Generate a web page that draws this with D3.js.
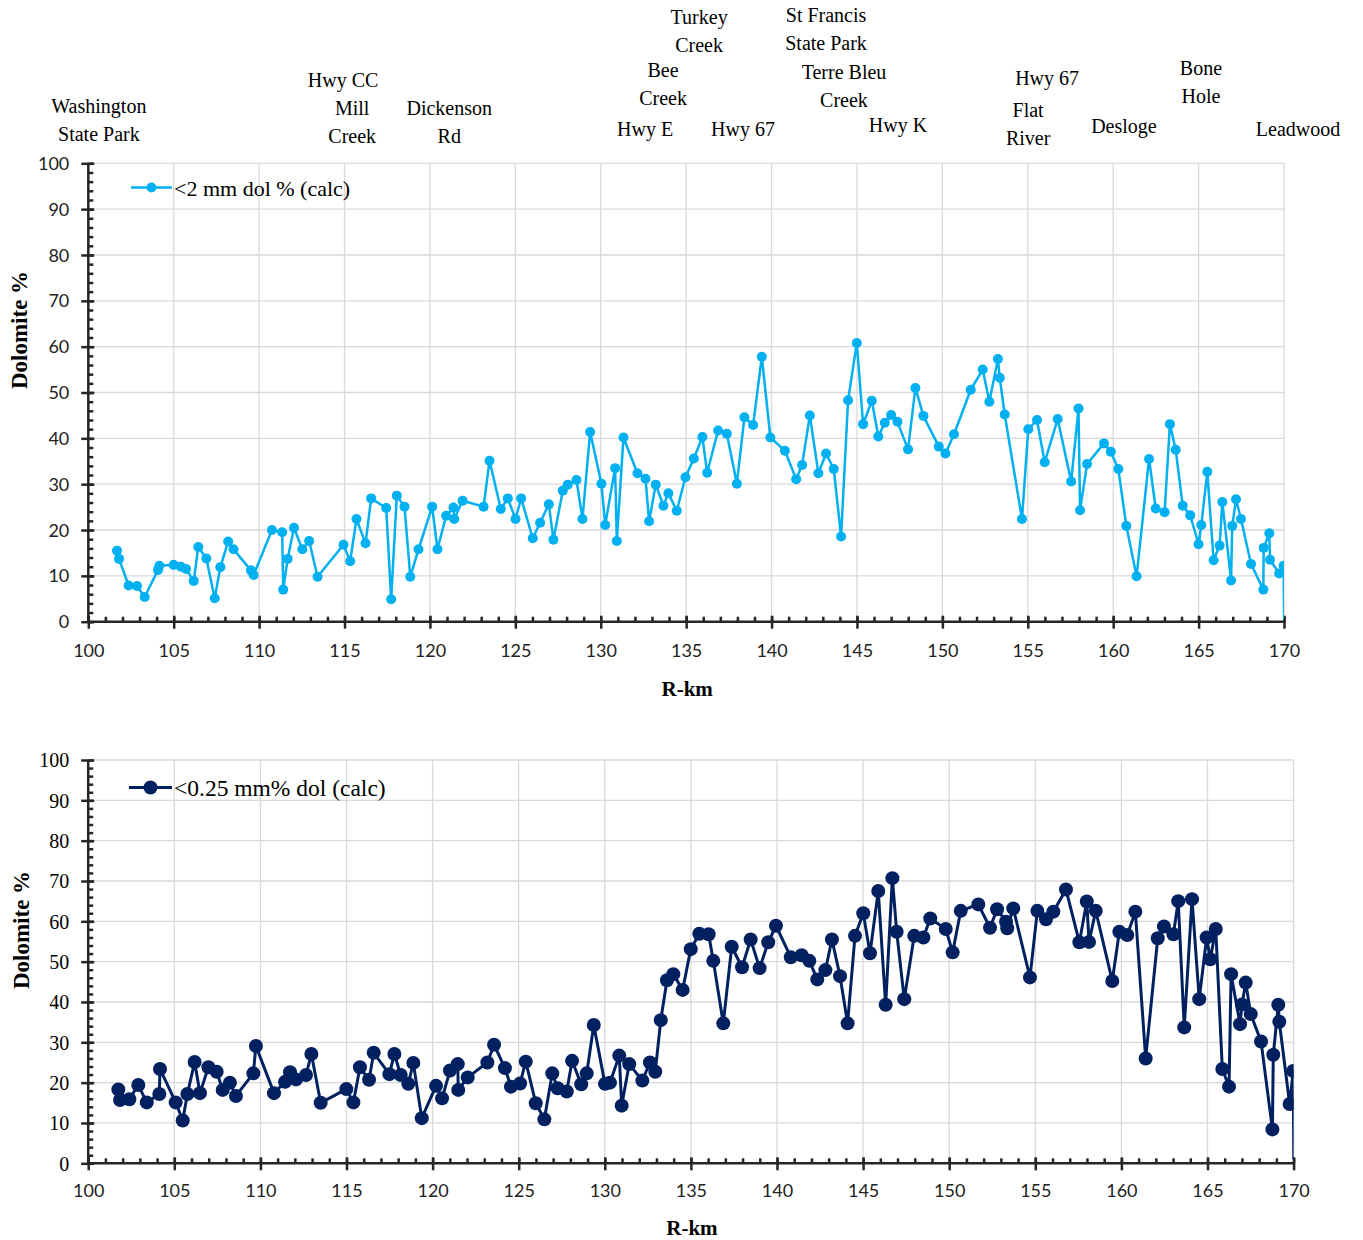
<!DOCTYPE html>
<html lang="en">
<head>
    <meta charset="UTF-8">
    <title>Dolomite % along R-km</title>
    <script src="https://d3js.org/d3.v7.min.js"></script>
    <style>
        body { margin: 0; background: #fff; }
        .grid line { stroke: #d9d9d9; stroke-width: 1.3px; }
        .axis path, .axis line { stroke: #262626; stroke-width: 2.5px; }
        .serif { font-family: "Liberation Serif", "Times New Roman", serif; fill: #000; }
        .sans { font-family: Lato, "Liberation Sans", sans-serif; fill: #222; }
    </style>
</head>
<body>
    <svg id="chart" width="1363" height="1240"></svg>

    <script>
        // R-km, dolomite % (<2 mm fraction)
        const dol2mm = [
            [101.68,15.5],[101.8,13.7],[102.36,7.9],[102.85,7.8],[103.3,5.4],[104.08,11.3],[104.16,12.2],[105.0,12.4],[105.42,12.0],[105.72,11.5],
            [106.17,8.9],[106.44,16.3],[106.91,13.8],[107.4,5.1],[107.73,11.9],[108.19,17.5],[108.5,15.8],[109.52,11.2],[109.68,10.2],[110.75,20.0],
            [111.35,19.5],[111.41,7.0],[111.67,13.7],[112.04,20.5],[112.53,15.8],[112.93,17.6],[113.42,9.8],[114.94,16.8],[115.33,13.2],[115.7,22.4],
            [116.23,17.1],[116.56,26.9],[117.44,24.8],[117.73,4.9],[118.06,27.5],[118.51,25.1],[118.85,9.8],[119.33,15.8],[120.13,25.1],[120.44,15.8],
            [120.95,23.1],[121.38,24.9],[121.42,22.4],[121.91,26.4],[123.14,25.1],[123.49,35.1],[124.15,24.6],[124.56,26.9],[125.01,22.4],[125.34,26.9],
            [126.02,18.2],[126.45,21.6],[126.96,25.6],[127.23,17.9],[127.78,28.6],[128.07,29.9],[128.58,30.9],[128.93,22.4],[129.38,41.4],[130.04,30.1],
            [130.26,21.1],[130.84,33.5],[130.94,17.6],[131.33,40.2],[132.15,32.4],[132.62,31.2],[132.83,21.9],[133.22,29.9],[133.67,25.3],[133.96,28.0],
            [134.45,24.2],[134.96,31.5],[135.45,35.6],[135.95,40.3],[136.23,32.5],[136.87,41.7],[137.38,41.0],[137.97,30.1],[138.41,44.6],[138.92,42.9],
            [139.43,57.8],[139.93,40.2],[140.78,37.3],[141.44,31.1],[141.79,34.2],[142.24,45.0],[142.74,32.4],[143.19,36.7],[143.64,33.3],[144.07,18.6],
            [144.48,48.3],[144.99,60.8],[145.36,43.1],[145.87,48.2],[146.25,40.4],[146.63,43.4],[147.0,45.1],[147.37,43.6],[147.99,37.6],[148.42,51.0],
            [148.89,44.9],[149.79,38.2],[150.18,36.7],[150.68,40.9],[151.66,50.6],[152.36,55.0],[152.75,48.0],[153.25,57.3],[153.36,53.2],[153.65,45.2],
            [154.66,22.4],[155.03,42.0],[155.54,44.0],[155.99,34.8],[156.75,44.2],[157.54,30.6],[157.97,46.5],[158.06,24.3],[158.47,34.4],[159.46,38.9],
            [159.86,37.1],[160.3,33.3],[160.77,20.9],[161.37,9.9],[162.1,35.5],[162.49,24.7],[163.01,23.9],[163.32,43.1],[163.66,37.5],[164.07,25.3],
            [164.51,23.2],[165.0,16.9],[165.16,21.1],[165.51,32.7],[165.88,13.4],[166.23,16.6],[166.39,26.1],[166.9,9.0],[166.97,20.9],[167.19,26.7],
            [167.48,22.4],[168.07,12.6],[168.79,7.0],[168.81,16.1],[169.14,19.3],[169.18,13.5],[169.72,10.5],[169.98,12.2],[170.01,0.5]
        ];

        // R-km, dolomite % (<0.25 mm fraction)
        const dol025mm = [
            [101.75,18.3],[101.85,15.7],[102.39,15.9],[102.91,19.4],[103.4,15.1],[104.13,17.2],[104.17,23.4],[105.08,15.1],[105.49,10.6],[105.76,17.2],
            [106.18,25.1],[106.49,17.4],[106.98,23.8],[107.46,22.7],[107.81,18.2],[108.23,20.0],[108.58,16.7],[109.59,22.3],[109.74,29.1],[110.79,17.4],
            [111.43,20.2],[111.72,22.6],[112.07,20.8],[112.65,21.9],[112.96,27.1],[113.5,15.0],[114.99,18.4],[115.4,15.1],[115.78,23.8],[116.31,20.7],
            [116.58,27.4],[117.49,22.1],[117.78,27.1],[118.15,21.9],[118.59,19.7],[118.88,24.9],[119.37,11.2],[120.2,19.2],[120.55,16.1],[121.01,23.0],
            [121.46,24.6],[121.49,18.2],[122.04,21.3],[123.18,25.0],[123.57,29.4],[124.2,23.6],[124.55,19.0],[125.08,19.8],[125.41,25.2],[125.99,14.9],
            [126.49,10.9],[126.95,22.3],[127.26,18.6],[127.79,17.8],[128.1,25.4],[128.63,19.6],[128.95,22.3],[129.36,34.3],[130.01,19.7],[130.3,20.0],
            [130.84,26.7],[130.98,14.3],[131.42,24.6],[132.18,20.5],[132.62,25.0],[132.93,22.7],[133.25,35.5],[133.61,45.4],[133.98,46.9],[134.52,43.0],
            [134.99,53.1],[135.49,56.9],[136.03,56.8],[136.3,50.2],[136.88,34.7],[137.37,53.7],[137.97,48.6],[138.47,55.5],[138.99,48.4],[139.49,54.8],
            [139.94,58.9],[140.8,51.1],[141.43,51.6],[141.88,50.2],[142.34,45.6],[142.81,47.9],[143.19,55.5],[143.66,46.4],[144.1,34.7],[144.53,56.4],
            [145.01,62.0],[145.4,52.1],[145.88,67.5],[146.31,39.3],[146.7,70.7],[146.95,57.4],[147.39,40.7],[147.97,56.4],[148.5,56.0],[148.9,60.7],
            [149.8,58.1],[150.2,52.3],[150.67,62.6],[151.69,64.2],[152.37,58.4],[152.78,63.0],[153.3,59.9],[153.37,58.3],[153.72,63.2],[154.69,46.1],
            [155.12,62.6],[155.62,60.5],[156.05,62.4],[156.78,67.9],[157.56,54.8],[157.99,64.9],[158.12,54.9],[158.51,62.6],[159.47,45.2],[159.88,57.4],
            [160.34,56.6],[160.81,62.4],[161.41,26.0],[162.11,55.8],[162.47,58.7],[163.02,56.8],[163.3,65.0],[163.65,33.7],[164.1,65.5],[164.52,40.7],
            [164.95,56.0],[165.16,50.6],[165.48,58.1],[165.86,23.4],[166.25,19.0],[166.37,46.9],[166.89,34.5],[167.0,39.4],[167.22,44.8],[167.51,37.0],
            [168.11,30.2],[168.77,8.4],[168.82,26.9],[169.11,39.3],[169.17,35.1],[169.77,14.7],[169.98,22.9],[170.01,1.0]
        ];

        const xTicks = [100, 105, 110, 115, 120, 125, 130, 135, 140, 145, 150, 155, 160, 165, 170];
        const yTicks = [0, 10, 20, 30, 40, 50, 60, 70, 80, 90, 100];

        // place names above the top panel (text lines)
        const placeNames = [
            ["Washington", "State Park"], ["Hwy CC"], ["Mill", "Creek"], ["Dickenson", "Rd"],
            ["Turkey", "Creek"], ["Bee", "Creek"], ["Hwy E"], ["Hwy 67"],
            ["St Francis", "State Park"], ["Terre Bleu", "Creek"], ["Hwy K"],
            ["Hwy 67"], ["Flat", "River"], ["Desloge"], ["Bone", "Hole"], ["Leadwood"]
        ];
        // where each name sits: km (centre) and baseline of first line, px
        const placeLayout = [
            [100.62, 113], [114.92, 87], [115.45, 115], [121.13, 115],
            [135.76, 24], [133.65, 77], [132.6, 136], [138.33, 136],
            [143.19, 22], [144.24, 79], [147.4, 132],
            [156.13, 85], [155.02, 117], [160.63, 133], [165.14, 75], [170.82, 136]
        ];

        const svg = d3.select("#chart");

        function drawPanel(o) {
            const x = d3.scaleLinear().domain([100, 170]).range([o.left, o.right]);
            const y = d3.scaleLinear().domain([0, 100]).range([o.bottom, o.top]);
            const g = svg.append("g");

            // gridlines
            const grid = g.append("g").attr("class", "grid");
            grid.selectAll(".v").data(xTicks.slice(1)).enter().append("line")
                .attr("x1", d => x(d)).attr("x2", d => x(d))
                .attr("y1", o.top).attr("y2", o.bottom);
            grid.selectAll(".h").data(yTicks.slice(1)).enter().append("line")
                .attr("x1", o.left).attr("x2", o.right)
                .attr("y1", d => y(d)).attr("y2", d => y(d));

            // minor ticks (inside)
            g.append("g").attr("class", "axis")
                .attr("transform", `translate(0,${o.bottom})`)
                .call(d3.axisBottom(x).tickValues(d3.range(100, 171, 1)).tickSize(-5).tickFormat(""))
                .call(a => a.select(".domain").remove());
            g.append("g").attr("class", "axis")
                .attr("transform", `translate(${o.left},0)`)
                .call(d3.axisLeft(y).tickValues(d3.range(0, 101, 2)).tickSize(-5).tickFormat(""))
                .call(a => a.select(".domain").remove());

            // major axes, ticks crossing the line
            const xa = g.append("g").attr("class", "axis")
                .attr("transform", `translate(0,${o.bottom})`)
                .call(d3.axisBottom(x).tickValues(xTicks).tickSizeInner(7).tickSizeOuter(0));
            xa.selectAll(".tick line").attr("y1", -6);
            xa.selectAll(".tick text")
                .attr("class", o.xFont).attr("y", o.xLabelY).attr("dy", "0.71em")
                .style("font-size", o.xFontSize + "px").attr("font-family", null);
            xa.select(".domain").attr("d", `M${o.left},0H${o.right}`);

            const ya = g.append("g").attr("class", "axis")
                .attr("transform", `translate(${o.left},0)`)
                .call(d3.axisLeft(y).tickValues(yTicks).tickSizeInner(7).tickSizeOuter(0));
            ya.selectAll(".tick line").attr("x1", 6);
            ya.selectAll(".tick text")
                .attr("class", o.yFont).attr("x", -19).attr("dy", "0.34em")
                .style("font-size", o.yFontSize + "px").attr("font-family", null);
            ya.select(".domain").attr("d", `M0,${o.bottom + 1}V${o.top}`);

            // series
            const clipId = "clip" + o.id;
            svg.append("clipPath").attr("id", clipId).append("rect")
                .attr("x", o.left).attr("y", o.top - 10)
                .attr("width", o.right - o.left).attr("height", o.bottom - o.top + 10);

            const line = d3.line().x(d => x(d[0])).y(d => y(d[1]));
            const s = g.append("g").attr("clip-path", `url(#${clipId})`);
            s.append("path").datum(o.data)
                .attr("d", line)
                .attr("fill", "none")
                .attr("stroke", o.color)
                .attr("stroke-width", o.lineWidth)
                .attr("stroke-linejoin", "round");
            s.selectAll("circle").data(o.data.filter(d => d[0] <= 170)).enter().append("circle")
                .attr("cx", d => x(d[0])).attr("cy", d => y(d[1]))
                .attr("r", o.r).attr("fill", o.color);

            // legend
            const lg = g.append("g");
            lg.append("line")
                .attr("x1", o.legX0).attr("x2", o.legX1)
                .attr("y1", o.legY).attr("y2", o.legY)
                .attr("stroke", o.color).attr("stroke-width", o.lineWidth);
            lg.append("circle")
                .attr("cx", (o.legX0 + o.legX1) / 2).attr("cy", o.legY)
                .attr("r", o.r).attr("fill", o.color);
            lg.append("text").attr("class", "serif")
                .attr("x", o.legX1 + 2).attr("y", o.legY + 8)
                .style("font-size", o.legFontSize + "px")
                .text(o.label);

            // axis titles
            g.append("text").attr("class", "serif")
                .attr("transform", `translate(${o.yTitleX},${o.yTitleMid}) rotate(-90)`)
                .attr("text-anchor", "middle")
                .style("font-size", "23px").style("font-weight", "bold")
                .text("Dolomite %");
            g.append("text").attr("class", "serif")
                .attr("x", (o.left + o.right) / 2 + 1).attr("y", o.xTitleY)
                .attr("text-anchor", "middle")
                .style("font-size", "21px").style("font-weight", "bold")
                .text("R-km");

            return x;
        }

        const xTop = drawPanel({
            id: "a", data: dol2mm, label: "<2 mm dol % (calc)",
            left: 88.3, right: 1284, top: 163.3, bottom: 621.7,
            color: "#00B0F0", lineWidth: 2.5, r: 5,
            legX0: 131, legX1: 172, legY: 187.5, legFontSize: 22,
            xFont: "sans", xFontSize: 18, xLabelY: 23,
            yFont: "sans", yFontSize: 18,
            yTitleX: 27, yTitleMid: 330, xTitleY: 696
        });

        drawPanel({
            id: "b", data: dol025mm, label: "<0.25 mm% dol (calc)",
            left: 88.2, right: 1293.6, top: 760, bottom: 1163.3,
            color: "#002060", lineWidth: 3, r: 7,
            legX0: 129, legX1: 172, legY: 787.5, legFontSize: 23.5,
            xFont: "sans", xFontSize: 18, xLabelY: 21,
            yFont: "serif", yFontSize: 20,
            yTitleX: 29, yTitleMid: 930, xTitleY: 1235
        });

        // place names, positioned with the top panel's km scale
        const places = svg.append("g");
        placeNames.forEach((lines, i) => {
            const t = places.append("text").attr("class", "serif")
                .attr("text-anchor", "middle")
                .style("font-size", "20px");
            lines.forEach((ln, j) => {
                t.append("tspan")
                    .attr("x", xTop(placeLayout[i][0]))
                    .attr("y", placeLayout[i][1] + j * 27.5)
                    .text(ln);
            });
        });
    </script>
</body>
</html>
